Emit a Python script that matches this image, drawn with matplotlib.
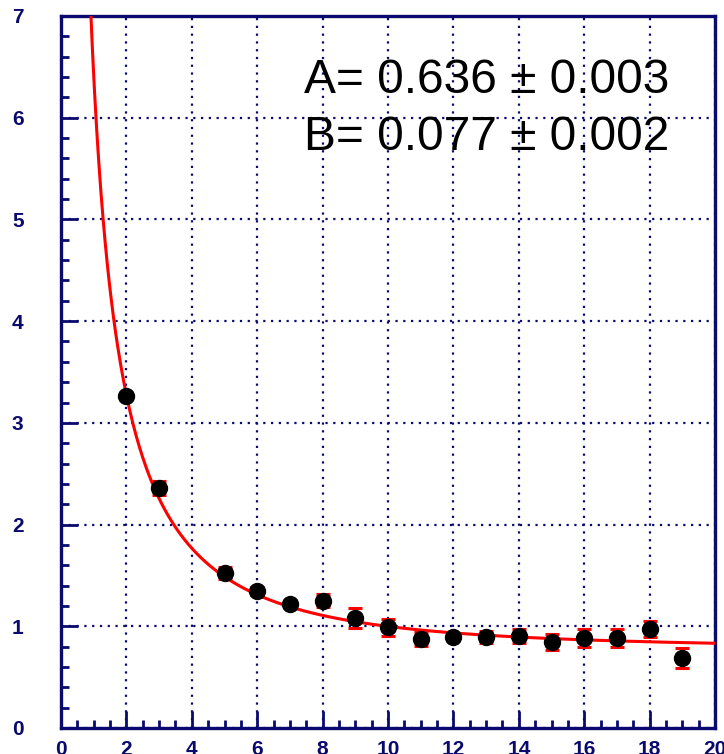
import numpy as np
import matplotlib.pyplot as plt
from matplotlib.ticker import MultipleLocator

# measured points
energy = [2, 3, 5, 6, 7, 8, 9, 10, 11, 12, 13, 14, 15, 16, 17, 18, 19]
resolution = [3.26, 2.36, 1.52, 1.35, 1.22, 1.25, 1.08, 0.99, 0.875, 0.895,
              0.895, 0.905, 0.845, 0.885, 0.885, 0.97, 0.69]
res_err = [0.03, 0.07, 0.06, 0.04, 0.03, 0.065, 0.10, 0.085, 0.065, 0.03,
           0.06, 0.065, 0.075, 0.09, 0.085, 0.08, 0.10]

# fit parameters
A, A_err = 0.636, 0.003
B, B_err = 0.077, 0.002

NAVY = "#0a0a6e"


def fit_func(x, a, b):
    """ Stochastic and constant terms added in quadrature. """
    return 10.0 * np.sqrt((a / x) ** 2 + b ** 2)


fig = plt.figure(figsize=(7.24, 7.54), dpi=100)
ax = fig.add_axes([0.0843, 0.0345, 0.9033, 0.9443])

xs = np.linspace(0.9, 20, 600)
ax.plot(xs, fit_func(xs, A, B), color="red", lw=2.2, zorder=3)

ax.errorbar(energy, resolution, yerr=res_err, fmt="none", ecolor="red",
            elinewidth=2.2, capsize=5, capthick=2.2, zorder=4)
ax.plot(energy, resolution, "o", color="black", ms=11.5, zorder=5)

ax.text(0.371, 0.941, f"A= {A:.3f} \u00b1 {A_err:.3f}", transform=ax.transAxes,
        fontsize=34.5, family="Liberation Sans", ha="left", va="top")
ax.text(0.371, 0.861, f"B= {B:.3f} \u00b1 {B_err:.3f}", transform=ax.transAxes,
        fontsize=34.5, family="Liberation Sans", ha="left", va="top")

ax.set_xlim(0, 20)
ax.set_ylim(0, 7)
ax.xaxis.set_major_locator(MultipleLocator(2))
ax.xaxis.set_minor_locator(MultipleLocator(0.5))
ax.yaxis.set_major_locator(MultipleLocator(1))
ax.yaxis.set_minor_locator(MultipleLocator(0.2))

ax.grid(True, which="major", color=NAVY, linestyle=(0, (1, 2.5)), lw=1.6)
for side in ax.spines.values():
    side.set_color(NAVY)
    side.set_linewidth(2.4)

ax.tick_params(which="both", direction="in", color=NAVY, width=2.0,
               top=False, right=False)
ax.tick_params(which="major", length=12)
ax.tick_params(which="minor", length=6)
ax.tick_params(axis="y", which="major", pad=27)
ax.tick_params(axis="x", which="major", pad=9)
for lbl in ax.get_xticklabels() + ax.get_yticklabels():
    lbl.set_fontfamily("Liberation Sans")
    lbl.set_fontweight("bold")
    lbl.set_fontsize(15)
    lbl.set_color(NAVY)

fig.savefig("out.png", dpi=100)
